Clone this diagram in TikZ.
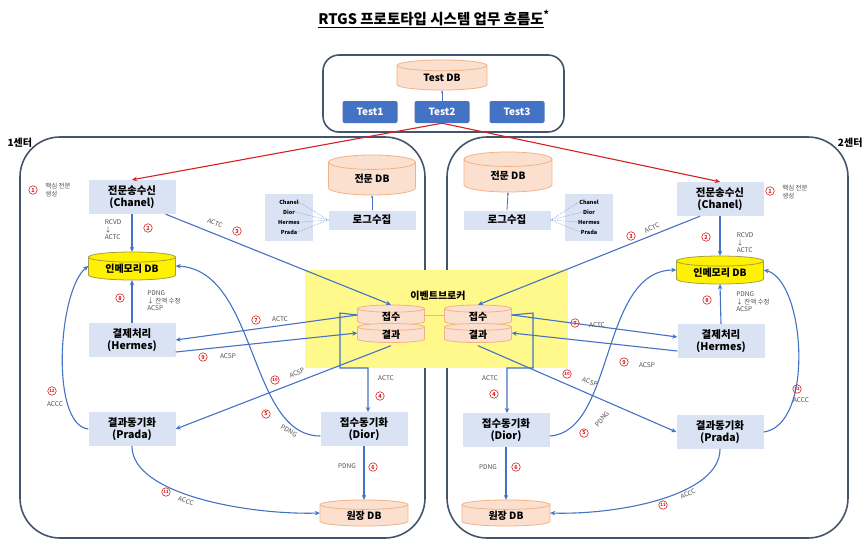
\documentclass[tikz,border=0pt]{standalone}
\usepackage{fontspec}
\setmainfont{Noto Sans CJK KR}
\usetikzlibrary{arrows.meta}
\definecolor{bl}{HTML}{4472C4}
\definecolor{lbc}{HTML}{DAE3F3}
\definecolor{fr}{HTML}{44546A}
\definecolor{pe}{HTML}{FBE0D0}
\definecolor{po}{HTML}{F4B183}
\definecolor{rd}{HTML}{D62020}
\definecolor{gt}{HTML}{505050}
\newcommand\cyl[8]{%
\pgfmathsetmacro\ry{0.18*#5}%
\filldraw[fill=#6,draw=#7,line width=0.8pt] (#2-#4/2,-#3+#5/2-\ry) -- (#2-#4/2,-#3-#5/2+\ry) arc[start angle=180,end angle=360,x radius=#4/2,y radius=\ry] -- (#2+#4/2,-#3+#5/2-\ry) arc[start angle=0,end angle=180,x radius=#4/2,y radius=\ry] -- cycle;
\draw[draw=#7,line width=0.8pt] (#2-#4/2,-#3+#5/2-\ry) arc[start angle=180,end angle=360,x radius=#4/2,y radius=\ry];
\node[minimum width=#4pt,minimum height=#5pt,inner sep=0,font=\bfseries\fontsize{10}{10}\selectfont] (#1) at (#2,-#3) {};
\node[font=\bfseries\fontsize{10}{10}\selectfont] at (#2,-#3-\ry/2) {#8};}
\begin{document}
\begin{tikzpicture}[x=1pt,y=1pt,
 box/.style={fill=lbc,align=center,inner sep=0,minimum width=87pt,minimum height=34pt,font=\bfseries\fontsize{10.5}{12.5}\selectfont},
 tb/.style={fill=bl,text=white,rounded corners=2pt,minimum width=55pt,minimum height=22pt,inner sep=0,font=\bfseries\fontsize{10}{10}\selectfont},
 frame/.style={draw=fr,line width=1.6pt},
 ar/.style={draw=bl,line width=1.1pt,-{Stealth[length=5pt,width=4.5pt]}},
 ra/.style={draw=rd,line width=1.1pt,-{Stealth[length=5pt,width=4.5pt]}},
 num/.style={circle,draw=rd,line width=0.6pt,text=rd,inner sep=0,minimum size=8.5pt,font=\bfseries\fontsize{5.5}{5.5}\selectfont},
 num2/.style={num,font=\bfseries\fontsize{4.3}{4.3}\selectfont},
 lab/.style={text=gt,font=\fontsize{6.5}{7.5}\selectfont,align=left,inner sep=0},
 nm/.style={font=\bfseries\fontsize{5.5}{6}\selectfont,inner sep=0}]
\useasboundingbox (0,0) rectangle (868,-544);
\node[font=\bfseries\fontsize{14.5}{15}\selectfont] (title) at (434,-19) {\underline{RTGS 프로토타입 시스템 업무 흐름도}\textsuperscript{*}};
% frames
\draw[frame,rounded corners=16pt] (323,-55) rectangle (564,-132);
\draw[frame,rounded corners=40pt] (20,-137) rectangle (425,-538);
\draw[frame,rounded corners=40pt] (447,-137) rectangle (848,-538);
\node[font=\bfseries\fontsize{10}{10}\selectfont,anchor=west] (c1) at (4,-143) {1센터};
\node[font=\bfseries\fontsize{10}{10}\selectfont,anchor=east] (c2) at (866,-143) {2센터};
\fill[yellow!45] (305,-270) rectangle (568,-368);
% top
\cyl{tdb}{442}{75}{90}{30}{pe}{po}{Test DB}
\node[tb] (t1) at (370,-112) {Test1};
\node[tb] (t2) at (442,-112) {Test2};
\node[tb] (t3) at (517,-112) {Test3};
\draw[draw=bl,line width=0.8pt,-{Stealth[length=3pt]}] (t2.north) -- (tdb.south);
% left nodes
\node[box] (lch) at (132,-197) {전문송수신\\(Chanel)};
\cyl{lim}{132}{266}{87}{28}{yellow}{yellow!60!black}{인메모리 DB}
\node[box] (lhe) at (132,-340) {결제처리\\(Hermes)};
\node[box] (lpr) at (132,-429) {결과동기화\\(Prada)};
\node[box] (ldi) at (364,-429) {접수동기화\\(Dior)};
\cyl{lwo}{364}{513}{88}{26}{pe}{po}{원장 DB}
\cyl{ljm}{372}{175}{87}{40}{pe}{po}{전문 DB}
\node[box,minimum height=19pt] (llog) at (372,-220) {로그수집};
\fill[lbc] (265,-194) rectangle (313,-241);
\node[nm] (la) at (289,-202) {Chanel};
\node[nm] (lb1) at (289,-212) {Dior};
\node[nm] (lc) at (289,-222) {Hermes};
\node[nm] (ld) at (289,-232) {Prada};
\foreach \n in {la,lb1,lc,ld} \draw[bl!70,densely dotted,line width=0.6pt] (llog.west) -- (\n.east);
\draw[draw=bl,line width=0.8pt,-{Stealth[length=3pt]}] (llog.north) -- (ljm.south);
% right nodes
\node[box] (rch) at (720,-199) {전문송수신\\(Chanel)};
\cyl{rim}{720}{270}{87}{28}{yellow}{yellow!60!black}{인메모리 DB}
\node[box] (rhe) at (721,-341) {결제처리\\(Hermes)};
\node[box] (rpr) at (720,-432) {결과동기화\\(Prada)};
\node[box] (rdi) at (506,-430) {접수동기화\\(Dior)};
\cyl{rwo}{506}{513}{88}{26}{pe}{po}{원장 DB}
\cyl{rjm}{508}{172}{88}{40}{pe}{po}{전문 DB}
\node[box,minimum height=19pt] (rlog) at (507,-220) {로그수집};
\fill[lbc] (565,-194) rectangle (613,-241);
\node[nm] (ra1) at (589,-202) {Chanel};
\node[nm] (rb) at (589,-212) {Dior};
\node[nm] (rc) at (589,-222) {Hermes};
\node[nm] (rd1) at (589,-232) {Prada};
\foreach \n in {ra1,rb,rc,rd1} \draw[bl!70,densely dotted,line width=0.6pt] (rlog.east) -- (\n.west);
\draw[draw=bl,line width=0.8pt,-{Stealth[length=3pt]}] (rlog.north) -- (rjm.south);
% broker
\node[font=\bfseries\fontsize{10}{10}\selectfont] (eb) at (438,-296) {이벤트브로커};
\draw[po,line width=1pt] (425,-315) -- (445,-315);
\cyl{lj}{391}{315}{67}{20}{pe}{po}{접수}
\cyl{lg}{391}{333}{67}{19}{pe}{po}{결과}
\cyl{rj}{478}{315}{67}{20}{pe}{po}{접수}
\cyl{rg}{478}{333}{67}{19}{pe}{po}{결과}
% red
\draw[ra] (t2.south) -- (lch.north);
\draw[ra] (t2.south) -- (rch.north);
% left connectors
\draw[ar] (lch.south) -- (lim.north);
\draw[ar] (lch.south east) ++(-10,0) -- (lj.north);
\draw[ar] (lhe.north) -- (lim.south);
\draw[ar] (lj.west) -- (lhe.east);
\draw[ar] ([yshift=-12pt]lhe.east) -- (lg.west);
\draw[ar] ([yshift=-3pt]lg.south) -- (lpr.east);
\draw[ar] (lj.west) -- (340,-313) -- (340,-368) -- (368,-368) -- (368,-412);
\draw[ar] (ldi.south) -- (lwo.north);
\draw[ar] ([yshift=-7pt]ldi.west) .. controls (248,-436) and (258,-270) .. (lim.east);
\draw[ar] (lpr.south) .. controls (132,-495) and (250,-515) .. (lwo.west);
\draw[ar] (lpr.west) .. controls (50,-425) and (58,-290) .. (lim.west);
% right connectors
\draw[ar] (rch.south) -- (rim.north);
\draw[ar] ([xshift=-20pt]rch.south) -- (rj.north);
\draw[ar] (rhe.north) -- (rim.south);
\draw[ar] (rj.east) -- ([yshift=4pt]rhe.west);
\draw[ar] ([yshift=-10pt]rhe.west) -- (rg.east);
\draw[ar] ([yshift=-3pt]rg.south) -- (rpr.west);
\draw[ar] (rj.east) -- (533,-313) -- (533,-368) -- (507,-368) -- (507,-413);
\draw[ar] (rdi.south) -- (rwo.north);
\draw[ar] ([yshift=-6pt]rdi.east) .. controls (615,-432) and (600,-270) .. (rim.west);
\draw[ar] (rpr.south) .. controls (720,-495) and (620,-515) .. (rwo.east);
\draw[ar] (rpr.east) .. controls (815,-425) and (805,-280) .. (rim.east);
% left labels
\node[num] (n1l) at (33,-190) {1};
\node[lab] (t1l) at (58,-190) {핵심 전문\\생성};
\node[lab] (t2l) at (113,-230) {RCVD\\↓\\ACTC};
\node[num] (n2l) at (148,-228) {2};
\node[lab,rotate=-22] (t3l) at (215,-223) {ACTC};
\node[num] (n3l) at (237,-231) {3};
\node[num] (n8l) at (120,-298) {8};
\node[lab] (t8l) at (164,-301) {PDNG\\↓ 잔액 수정\\ACSP};
\node[num] (n7l) at (256,-320) {7};
\node[lab] (t7l) at (280,-319) {ACTC};
\node[num] (n9l) at (203,-357) {9};
\node[lab] (t9l) at (228,-356) {ACSP};
\node[num2] (n10l) at (275,-380) {10};
\node[lab,rotate=25] (t10l) at (297,-373) {ACSP};
\node[num2] (n12l) at (52,-391) {12};
\node[lab] (t12l) at (55,-404) {ACCC};
\node[num] (n5l) at (266,-414) {5};
\node[lab,rotate=-30] (t5l) at (289,-431) {PDNG};
\node[lab] (t4l) at (386,-378) {ACTC};
\node[num] (n4l) at (380,-396) {4};
\node[lab] (t6l) at (347,-466) {PDNG};
\node[num] (n6l) at (373,-467) {6};
\node[num2] (n11l) at (166,-492) {11};
\node[lab,rotate=-20] (t11l) at (186,-501) {ACCC};
% right labels
\node[num] (n1r) at (770,-191) {1};
\node[lab] (t1r) at (795,-192) {핵심 전문\\생성};
\node[num] (n2r) at (706,-237) {2};
\node[lab] (t2r) at (745,-243) {RCVD\\↓\\ACTC};
\node[num] (n3r) at (631,-236) {3};
\node[lab,rotate=25] (t3r) at (652,-228) {ACTC};
\node[num] (n8r) at (707,-300) {8};
\node[lab] (t8r) at (753,-302) {PDNG\\↓ 잔액 수정\\ACSP};
\node[num] (n7r) at (575,-323) {7};
\node[lab] (t7r) at (597,-325) {ACTC};
\node[num] (n9r) at (624,-362) {9};
\node[lab] (t9r) at (647,-365) {ACSP};
\node[num2] (n10r) at (567,-374) {10};
\node[lab,rotate=-20] (t10r) at (590,-382) {ACSP};
\node[num2] (n12r) at (797,-389) {12};
\node[lab] (t12r) at (801,-400) {ACCC};
\node[num] (n5r) at (584,-433) {5};
\node[lab,rotate=50] (t5r) at (602,-419) {PDNG};
\node[lab] (t4r) at (490,-378) {ACTC};
\node[num] (n4r) at (494,-394) {4};
\node[lab] (t6r) at (488,-467) {PDNG};
\node[num] (n6r) at (516,-467) {6};
\node[num2] (n11r) at (663,-505) {11};
\node[lab,rotate=25] (t11r) at (688,-494) {ACCC};
\end{tikzpicture}
\end{document}
